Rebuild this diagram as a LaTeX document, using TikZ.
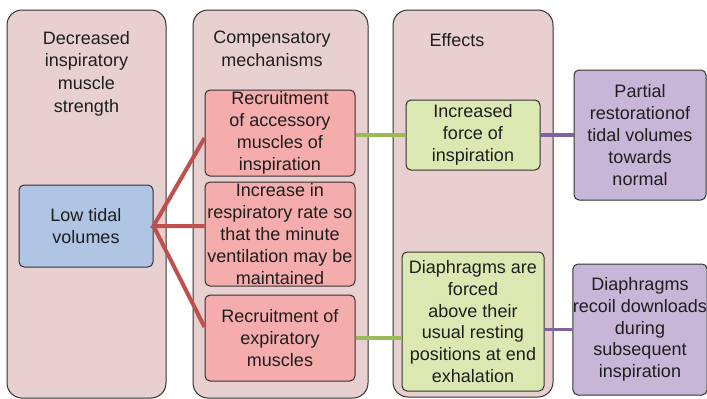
\documentclass[tikz,border=0pt]{standalone}
\usepackage{fontspec}
\setmainfont{Liberation Sans}

\definecolor{fondpanneau}{RGB}{232,208,209}
\definecolor{fondrouge}{RGB}{244,172,172}
\definecolor{fondbleu}{RGB}{176,196,228}
\definecolor{fondvert}{RGB}{220,232,178}
\definecolor{fondviolet}{RGB}{200,182,216}
\definecolor{bord}{RGB}{50,50,50}
\definecolor{texte}{RGB}{30,30,30}
\definecolor{lienrouge}{RGB}{192,80,77}
\definecolor{lienvert}{RGB}{155,187,89}
\definecolor{lienviolet}{RGB}{128,100,162}

\begin{document}
\begin{tikzpicture}[x=1pt, y=-1pt,
    every node/.style={font=\fontsize{18}{21.8}\selectfont, text=texte, align=center},
    panneau/.style={draw=bord, line width=1pt, fill=fondpanneau, rounded corners=15pt, inner sep=0pt},
    boite/.style={draw=bord, line width=1pt, rounded corners=5pt, inner sep=0pt},
    titre/.style={anchor=north, inner sep=0pt, font=\fontsize{18}{22.7}\selectfont},
    lien/.style={line width=4pt}]
    \useasboundingbox (0,0) rectangle (707,399);

    % Panneaux
    \node[panneau, minimum width=159pt, minimum height=388pt] (col1) at (86.5, 204) {};
    \node[panneau, minimum width=175pt, minimum height=388pt] (col2) at (280.5, 204) {};
    \node[panneau, minimum width=160pt, minimum height=387pt] (col3) at (473, 203.5) {};

    % Titres
    \node[titre] (t1) at (86.5, 31) {Decreased\\inspiratory\\muscle\\strength};
    \node[titre] (t2) at (272, 31) {Compensatory\\mechanisms};
    \node[titre] (t3) at (457, 33) {Effects};

    % Boites
    \node[boite, fill=fondbleu, minimum width=134pt, minimum height=82pt] (low) at (86, 226) {Low tidal\\volumes};

    \node[boite, fill=fondrouge, minimum width=150pt, minimum height=86pt] (red1) at (280, 133)
        {Recruitment\\of accessory\\muscles of\\inspiration};
    \node[boite, fill=fondrouge, minimum width=150pt, minimum height=104pt] (red2) at (280, 234)
        {Increase in\\respiratory rate so\\that the minute\\ventilation may be\\maintained};
    \node[boite, fill=fondrouge, minimum width=150pt, minimum height=86pt] (red3) at (280, 338)
        {Recruitment of\\expiratory\\muscles};

    \node[boite, fill=fondvert, minimum width=134pt, minimum height=70pt] (green1) at (473, 135)
        {Increased\\force of\\inspiration};
    \node[boite, fill=fondvert, minimum width=142pt, minimum height=139pt] (green2) at (473, 321.5)
        {Diaphragms are\\forced\\above their\\usual resting\\positions at end\\exhalation};

    \node[boite, fill=fondviolet, minimum width=132pt, minimum height=130pt] (purple1) at (640, 135)
        {Partial\\restorationof\\tidal volumes\\towards\\normal};
    \node[boite, fill=fondviolet, minimum width=132pt, minimum height=131pt] (purple2) at (640, 329.5)
        {Diaphragms\\recoil downloads\\during\\subsequent\\inspiration};

    % Liaisons
    \draw[lien, lienrouge] ([yshift=-5pt]red1.west) -- (low.east) -- (low.east -| red2.west);
    \draw[lien, lienrouge] (low.east) -- ([yshift=11pt]red3.west);
    \draw[lien, lienvert] (green1.west -| red1.east) -- (green1.west);
    \draw[lien, lienvert] (red3.east) -- (red3.east -| green2.west);
    \draw[lien, line width=3.5pt, lienviolet] (green1.east) -- (green1.east -| purple1.west);
    \draw[lien, line width=3.5pt, lienviolet] (purple2.west -| green2.east) -- (purple2.west);
\end{tikzpicture}
\end{document}
